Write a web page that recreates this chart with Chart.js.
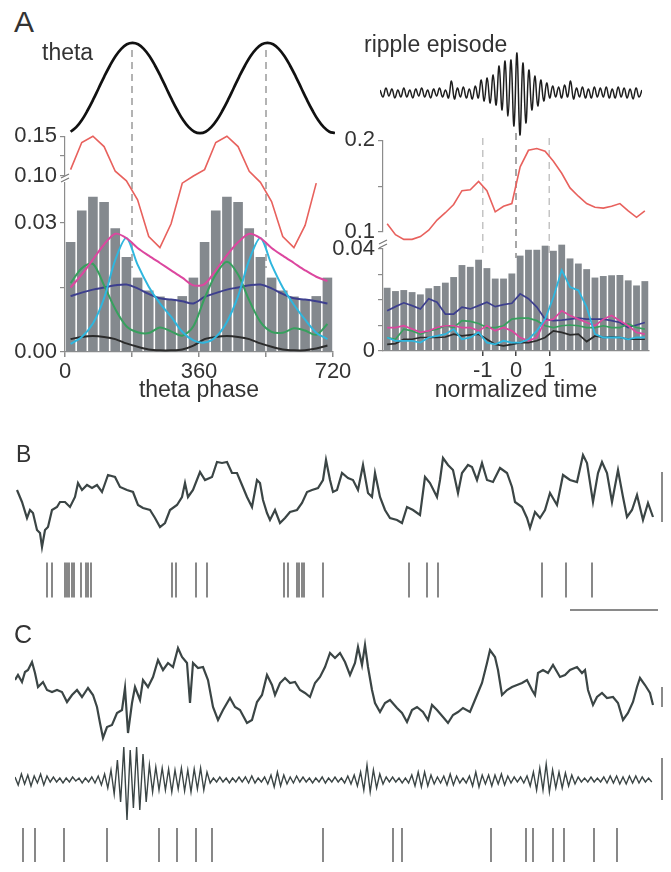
<!DOCTYPE html>
<html lang="en">
<head>
<meta charset="UTF-8">
<title>theta phase and ripple locking</title>
<style>
  body { margin: 0; background: #fff; }
  #fig { position: relative; width: 671px; height: 872px; overflow: hidden;
         font-family: "Liberation Sans", Arial, sans-serif; color: #333; }
  #fig canvas { position: absolute; }
  .lbl { position: absolute; line-height: 1.2; white-space: nowrap; }
</style>
</head>
<body>
<div id="fig">
  <canvas id="cLL" width="365" height="370" style="left:0;top:40px"></canvas>
  <canvas id="cLU" width="340" height="150" style="left:0;top:120px"></canvas>
  <canvas id="cTheta" width="270" height="100" style="left:65px;top:38px"></canvas>
  <canvas id="cRL" width="340" height="286" style="left:330px;top:124px"></canvas>
  <canvas id="cRU" width="330" height="126" style="left:330px;top:124px"></canvas>
  <canvas id="cRipple" width="262" height="96" style="left:380px;top:48px"></canvas>
  <canvas id="cB" width="655" height="180" style="left:15px;top:440px"></canvas>
  <canvas id="cC" width="655" height="245" style="left:15px;top:625px"></canvas>

  <div class="lbl" style="left:14px;top:4px;font-size:30px">A</div>
  <div class="lbl" style="left:42px;top:39px;font-size:23px">theta</div>
  <div class="lbl" style="left:364px;top:31px;font-size:23px">ripple episode</div>
  <div class="lbl" style="left:16px;top:441px;font-size:23px">B</div>
  <div class="lbl" style="left:14px;top:619px;font-size:25px">C</div>
</div>

<script src="https://cdn.jsdelivr.net/npm/chart.js"></script>
<script>
// ---- panel A, left: theta phase (deg), two cycles ----
const thetaPhase = [15,30,45,60,75,90,105,120,135,150,165,180,195,210,225,240,255,270,285,300,315,330,345,360,
                    375,390,405,420,435,450,465,480,495,510,525,540,555,570,585,600,615,630,645,660,675,690,705,720];
const thetaWave = [-0.97,-0.87,-0.71,-0.5,-0.26,0,0.26,0.5,0.71,0.87,0.97,1,0.97,0.87,0.71,0.5,0.26,0,-0.26,-0.5,-0.71,-0.87,-0.97,-1,
                   -0.97,-0.87,-0.71,-0.5,-0.26,0,0.26,0.5,0.71,0.87,0.97,1,0.97,0.87,0.71,0.5,0.26,0,-0.26,-0.5,-0.71,-0.87,-0.97,-1];
const thetaPeaks = [180, 540];

const phaseBins = [15,45,75,105,135,165,195,225,255,285,315,345,375,405,435,465,495,525,555,585,615,645,675,705];
const phaseBars = [0.0256,0.0329,0.0361,0.0349,0.0288,0.0221,0.0173,0.0143,0.0129,0.0123,0.0130,0.0173,
                   0.0256,0.0329,0.0361,0.0349,0.0288,0.0221,0.0173,0.0143,0.0129,0.0123,0.0130,0.0173];
const phaseRed = [0.108,0.142,0.150,0.137,0.106,0.094,0.070,0.024,0.010,0.040,0.091,0.100,
                  0.108,0.142,0.150,0.137,0.106,0.092,0.068,0.024,0.010,0.038,0.091,null];
const phaseMagenta = [0.0150,0.0180,0.0215,0.0250,0.0275,0.0265,0.0242,0.0224,0.0207,0.0190,0.0173,0.0155,
                      0.0158,0.0190,0.0225,0.0255,0.0275,0.0265,0.0242,0.0224,0.0207,0.0190,0.0175,0.0165];
const phaseCyan = [0.0019,0.0035,0.0066,0.0125,0.0214,0.0265,0.0203,0.0152,0.0113,0.0082,0.0047,0.0027,
                   0.0022,0.0035,0.0070,0.0130,0.0214,0.0265,0.0203,0.0150,0.0110,0.0075,0.0045,0.0030];
const phaseGreen = [0.0160,0.0195,0.0205,0.0155,0.0100,0.0060,0.0046,0.0044,0.0057,0.0048,0.0038,0.0060,
                    0.0125,0.0180,0.0210,0.0180,0.0120,0.0070,0.0047,0.0045,0.0055,0.0050,0.0040,0.0065];
const phaseNavy = [0.0130,0.0138,0.0145,0.0150,0.0155,0.0157,0.0148,0.0135,0.0125,0.0122,0.0118,0.0113,
                   0.0128,0.0137,0.0145,0.0150,0.0155,0.0157,0.0148,0.0135,0.0125,0.0122,0.0118,0.0113];
const phaseBlack = [0.0030,0.0035,0.0037,0.0035,0.0030,0.0020,0.0012,0.0006,0.0004,0.0004,0.0006,0.0015,
                    0.0030,0.0035,0.0037,0.0035,0.0030,0.0020,0.0012,0.0006,0.0004,0.0004,0.0008,0.0015];

// ---- panel A, right: normalized time around ripple episode ----
const timeBins = [-3.875,-3.625,-3.375,-3.125,-2.875,-2.625,-2.375,-2.125,-1.875,-1.625,-1.375,-1.125,-0.875,-0.625,-0.375,-0.125,
                  0.125,0.375,0.625,0.875,1.125,1.375,1.625,1.875,2.125,2.375,2.625,2.875,3.125,3.375,3.625,3.875];
const timeMarks = [-1, 0, 1];
const timeBars = [0.0248,0.0235,0.0239,0.0231,0.0222,0.0246,0.0255,0.0268,0.0290,0.0337,0.0330,0.0358,0.0325,0.0284,0.0284,0.0304,
                  0.0374,0.0397,0.0397,0.0413,0.0393,0.0417,0.0363,0.0343,0.0321,0.0288,0.0294,0.0297,0.0298,0.0277,0.0257,0.0274];
const timeRed = [0.109,0.097,0.092,0.092,0.095,0.102,0.113,0.121,0.130,0.145,0.146,0.155,0.145,0.122,0.128,0.131,
                 0.171,0.189,0.191,0.188,0.177,0.164,0.148,0.139,0.131,0.127,0.126,0.128,0.131,0.123,0.116,0.123];
const timeNavy = [0.0158,0.0174,0.0189,0.0178,0.0165,0.0205,0.0191,0.0145,0.0145,0.0172,0.0165,0.0178,0.0191,0.0174,0.0182,0.0187,
                  0.0224,0.0205,0.0172,0.0125,0.0119,0.0121,0.0125,0.0129,0.0125,0.0125,0.0125,0.0119,0.0112,0.0092,0.0102,0.0112];
const timeCyan = [0.0053,0.0040,0.0040,0.0040,0.0033,0.0053,0.0059,0.0066,0.0086,0.0046,0.0053,0.0073,0.0033,0.0026,0.0040,0.0033,
                  0.0033,0.0046,0.0079,0.0125,0.0211,0.0317,0.0251,0.0238,0.0172,0.0066,0.0053,0.0053,0.0053,0.0046,0.0053,0.0053];
const timeMagenta = [0.0092,0.0092,0.0099,0.0086,0.0073,0.0079,0.0092,0.0099,0.0099,0.0092,0.0092,0.0079,0.0099,0.0079,0.0092,0.0079,
                     0.0053,0.0040,0.0053,0.0119,0.0125,0.0158,0.0139,0.0125,0.0112,0.0099,0.0125,0.0139,0.0119,0.0099,0.0073,0.0066];
const timeGreen = [0.0053,0.0046,0.0086,0.0079,0.0066,0.0079,0.0086,0.0099,0.0092,0.0119,0.0116,0.0108,0.0092,0.0092,0.0099,0.0125,
                   0.0129,0.0129,0.0119,0.0099,0.0092,0.0099,0.0102,0.0099,0.0092,0.0092,0.0099,0.0092,0.0092,0.0106,0.0092,0.0086];
const timeBlack = [0.0026,0.0029,0.0046,0.0046,0.0053,0.0053,0.0053,0.0055,0.0066,0.0059,0.0063,0.0066,0.0046,0.0026,0.0020,0.0026,
                   0.0033,0.0033,0.0040,0.0053,0.0079,0.0073,0.0063,0.0066,0.0037,0.0059,0.0053,0.0055,0.0053,0.0046,0.0046,0.0046];

// ripple-band trace of the example episode (one value per half cycle)
const rippleTrace = [3,-4,5,-3,4,-5,3,-4,5,-4,3,-5,4,-3,5,-4,3,-5,4,-3,5,-4,3,-5,
                     12,-6,5,-4,6,-5,4,-6,7,-5,
                     13,-8,15,-10,18,-12,27,-17,32,-23,33,-33,40,-42,30,-30,23,-17,17,-13,
                     13,-8,10,-5,7,-4,6,
                     -5,8,-4,12,-6,5,-4,6,-5,4,-5,6,-4,5,-4,6,-5,4,-5,6,-4,5,-5,4,-6,5,-4,3];

// ---- panel B: wide-band LFP [ms, a.u.] and unit spikes [ms] ----
const bLfp = [[2,10],[7,-2],[12,-18],[15,-10],[18,-13],[22,-30],[25,-33],[27,-47],[30,-30],[33,-27],[37,-10],[42,-7],[45,-2],[50,-2],
  [55,-7],[60,3],[63,17],[67,10],[72,15],[77,12],[82,15],[87,8],[93,25],[100,23],[105,13],[112,10],[118,8],[123,-5],[128,-8],[135,-10],
  [140,-18],[145,-27],[150,-23],[155,-10],[162,-5],[167,3],[170,17],[173,3],[178,10],[185,28],[190,20],[197,23],[202,38],[207,37],
  [212,38],[217,27],[222,27],[227,15],[232,3],[237,-7],[242,20],[245,17],[248,0],[252,-13],[255,-20],[260,-10],[265,-23],[270,-18],
  [275,-12],[282,-10],[287,-3],[292,8],[297,10],[303,12],[308,20],[311,40],[315,20],[318,8],[322,10],[327,27],[333,22],[338,20],
  [343,10],[348,35],[353,7],[357,3],[360,27],[365,3],[370,-10],[375,-18],[382,-20],[387,-23],[392,-7],[398,-10],[405,-15],[410,23],
  [415,17],[422,3],[425,20],[428,42],[433,35],[438,30],[443,7],[447,27],[453,35],[457,33],[462,20],[467,37],[472,20],[478,18],
  [485,32],[492,27],[497,13],[500,-2],[507,-7],[512,-18],[515,-28],[520,-12],[525,-18],[530,-10],[535,7],[542,-5],[548,25],[555,20],
  [562,18],[568,45],[572,37],[578,-2],[583,27],[587,38],[592,27],[597,-2],[603,30],[608,3],[612,-17],[617,-10],[622,5],[628,-20],
  [633,-3],[638,-17]];
const bSpikes = [32,37,50,52,54,57,59,66,71,73,76,157,161,181,192,269,273,282,284,287,289,308,394,412,423,527,551,577];

// ---- panel C: wide-band LFP, ripple-band LFP and spikes ----
const cLfp = [[0,20],[3,25],[7,18],[10,28],[13,30],[17,38],[20,27],[23,13],[28,18],[32,10],[37,8],[42,10],[47,8],[52,-2],[57,5],
  [62,10],[67,3],[73,12],[78,5],[82,-7],[85,-23],[88,-38],[92,-27],[97,-25],[102,-13],[107,-10],[110,12],[113,-33],[117,-3],[120,13],
  [125,0],[128,20],[133,13],[138,23],[143,40],[148,30],[153,37],[158,33],[163,52],[167,43],[172,37],[175,-3],[178,37],[183,32],
  [188,33],[193,20],[198,-7],[203,-20],[208,-10],[215,2],[220,-7],[225,-10],[232,-23],[237,-20],[242,-2],[247,5],[252,25],[257,15],
  [260,5],[265,17],[270,22],[275,17],[280,18],[285,10],[290,7],[295,3],[300,17],[305,23],[310,33],[315,47],[320,42],[325,47],
  [330,38],[335,25],[340,37],[343,53],[347,35],[350,55],[353,33],[357,10],[360,-3],[365,-12],[370,-3],[375,0],[382,-8],[387,-13],
  [392,-22],[397,-10],[402,-7],[408,-12],[413,-20],[417,-5],[422,-10],[428,-17],[433,-23],[438,-15],[443,-12],[448,-8],[455,-12],
  [462,5],[467,17],[472,37],[475,50],[480,43],[483,30],[487,5],[492,10],[497,13],[502,15],[507,17],[512,20],[517,10],[520,5],
  [523,27],[528,30],[533,27],[538,35],[545,23],[550,25],[555,30],[562,33],[567,27],[570,30],[573,10],[578,-5],[582,3],[587,7],
  [592,2],[598,3],[603,-3],[608,-20],[613,-13],[618,-2],[622,13],[625,22],[630,15],[635,7],[638,-5]];
const cFiltStep = 3.2; // ms between listed samples
const cFilt = [3,-5,6,-4,5,-6,4,-3,6,-5,4,
  -2,3,-2,2,-3,2,-2,3,-1,2,-3,2,-2,3,-3,4,-5,
  6,-8,10, -14,20,-22, 33,-40,30,-28,33,-30,26, -22,15,-12,13,-10,
  12,-10,11,-12,10,-9,12,-11,10,-12,11,-9,12,-10,8,
  -3,2,-2,3,-2,2,-3,2,-2,3,-2,3,-3,4,-3,2,-2,3,-4,5,
  -7,8,-6,5,-4,3,-3,4,
  -2,3,-2,2,-3,2,-2,3,-3,2,-2,3,-2,2,-3,4,-4,5,-6,8,
  -10,15,-12,10,-8,6,-4,
  3,-2,3,-2,2,-3,2,-3,5,-6,
  8,-7,8,-6,5,-4,
  3,-3,4,-5,6,-5,4,-3,2,
  -3,4,-6,8,-7,5,
  -4,5,-6,5,-4,6,-5,4,-3,
  3,-2,3,-3,4,-6,8,-10,
  12,-10,16,-12,10,-8,8,
  -8,7,-6,5,-4,3,
  -2,2,-2,3,-2,2,-2,3,-3,4,-3,4,-4,3,-4,4,-3,4,-3,3,-2,2,-2];
const cSpikes = [8,20,49,92,144,162,181,197,308,378,387,476,511,518,538,549,579,602];

// ---- shared look ----
Chart.defaults.font.family = '"Liberation Sans", Arial, sans-serif';
Chart.defaults.color = '#333';
Chart.defaults.animation = false;
Chart.defaults.responsive = false;
Chart.defaults.devicePixelRatio = 1;
Chart.defaults.events = [];
Chart.defaults.layout.autoPadding = false;
Chart.defaults.plugins.legend.display = false;
Chart.defaults.plugins.tooltip.enabled = false;

const AXIS = '#8c8c8c';
const TRACE = '#3b4545';
const pts = (xs, ys) => xs.map((x, i) => ({ x, y: ys[i] }));
const pairs = arr => arr.map(([x, y]) => ({ x, y }));
const hidden = (min, max) => ({ type: 'linear', display: false, min, max });

function curve(data, color, extra) {
  return Object.assign({ type: 'line', data, borderColor: color, borderWidth: 1.7, pointRadius: 0,
                         tension: 0, clip: false, order: 0 }, extra || {});
}

function yAxis(min, max, ticks, fmt, width) {
  return {
    type: 'linear', position: 'left', min, max,
    afterBuildTicks: s => { s.ticks = ticks.map(v => ({ value: v })); },
    afterFit: s => { s.width = width; },
    ticks: { callback: v => fmt(v), font: { size: 22 }, color: '#333', padding: 3, autoSkip: false },
    grid: { drawOnChartArea: false, tickLength: 5, color: AXIS, lineWidth: 1.2 },
    border: { color: AXIS, width: 1.2 }
  };
}

function xAxis(min, max, ticks, fmt, title, height, tickColor) {
  return {
    type: 'linear', min, max, offset: false,
    afterBuildTicks: s => { s.ticks = ticks.map(v => ({ value: v })); },
    afterFit: s => { s.height = height; },
    ticks: { callback: v => fmt(v), font: { size: 22 }, color: '#333', padding: 2, autoSkip: false, maxRotation: 0 },
    grid: { drawOnChartArea: false, offset: false, tickLength: 5, color: tickColor, lineWidth: 1.5 },
    border: { color: AXIS, width: 1.2 },
    title: { display: true, text: title, font: { size: 23 }, color: '#333', padding: { top: 0, bottom: 6 } }
  };
}

// dashed guides at theta peaks / ripple marks
const refLines = {
  id: 'refLines',
  beforeDatasetsDraw(chart, args, o) {
    const ctx = chart.ctx, xs = chart.scales.x;
    ctx.save();
    ctx.lineWidth = 1.5;
    ctx.setLineDash([7, 5]);
    o.lines.forEach(l => {
      const px = xs.getPixelForValue(l.at);
      ctx.strokeStyle = l.color;
      ctx.beginPath(); ctx.moveTo(px, l.from); ctx.lineTo(px, l.to); ctx.stroke();
    });
    ctx.restore();
  }
};

// small break mark at the top of a lower y axis
const axisBreak = {
  id: 'axisBreak',
  afterDraw(chart) {
    const ctx = chart.ctx, x = chart.chartArea.left, y = chart.chartArea.top;
    ctx.save();
    ctx.strokeStyle = '#777';
    ctx.lineWidth = 1.2;
    ctx.beginPath();
    ctx.moveTo(x - 4, y - 1); ctx.lineTo(x + 4, y - 5);
    ctx.moveTo(x - 4, y - 5); ctx.lineTo(x + 4, y - 9);
    ctx.stroke();
    ctx.restore();
  }
};

// ---- A left, lower part: bars + cell-type curves ----
new Chart(document.getElementById('cLL'), {
  type: 'bar',
  data: {
    datasets: [
      curve(pts(phaseBins, phaseMagenta), '#dc479f', { tension: 0.3, borderWidth: 2 }),
      curve(pts(phaseBins, phaseCyan), '#2fb6de', { tension: 0.3, borderWidth: 2 }),
      curve(pts(phaseBins, phaseGreen), '#37a05e', { tension: 0.3, borderWidth: 2 }),
      curve(pts(phaseBins, phaseNavy), '#3d3f8e', { tension: 0.3, borderWidth: 2 }),
      curve(pts(phaseBins, phaseBlack), '#2b2b2b', { tension: 0.3, borderWidth: 2 }),
      { type: 'bar', data: pts(phaseBins, phaseBars), backgroundColor: '#84898e',
        barPercentage: 0.86, categoryPercentage: 1, order: 10 }
    ]
  },
  options: {
    layout: { padding: { top: 143, right: 32, left: 0, bottom: 0 } },
    scales: {
      x: xAxis(0, 720, [0, 180, 360, 540, 720], v => (v % 360 === 0 ? String(v) : ''), 'theta phase', 58, AXIS),
      y: yAxis(0, 0.0393, [0, 0.015, 0.03], v => (v === 0.015 ? '' : v.toFixed(2)), 65)
    },
    plugins: {
      refLines: { lines: thetaPeaks.map(p => ({ at: p, from: 10, to: 228, color: '#9a9a9a' })) }
    }
  },
  plugins: [refLines, axisBreak]
});

// ---- A left, upper part: red curve on 0.10-0.15 axis ----
new Chart(document.getElementById('cLU'), {
  type: 'line',
  data: { datasets: [curve(pts(phaseBins, phaseRed), '#e8615d', { borderWidth: 1.6 })] },
  options: {
    layout: { padding: { top: 15, right: 7, bottom: 94, left: 0 } },
    scales: {
      x: hidden(0, 720),
      y: yAxis(0.10, 0.15, [0.10, 0.125, 0.15], v => (v === 0.125 ? '' : v.toFixed(2)), 65)
    }
  }
});

// ---- theta reference wave ----
new Chart(document.getElementById('cTheta'), {
  type: 'line',
  data: { datasets: [curve(pts(thetaPhase, thetaWave), '#111', { borderWidth: 2.7, tension: 0.4 })] },
  options: { scales: { x: hidden(0, 720), y: hidden(-1.11, 1.11) } }
});

// ---- A right, lower part ----
new Chart(document.getElementById('cRL'), {
  type: 'bar',
  data: {
    datasets: [
      curve(pts(timeBins, timeCyan), '#2fb6de', { borderWidth: 1.8 }),
      curve(pts(timeBins, timeMagenta), '#dc479f'),
      curve(pts(timeBins, timeGreen), '#37a05e'),
      curve(pts(timeBins, timeNavy), '#3d3f8e'),
      curve(pts(timeBins, timeBlack), '#2b2b2b'),
      { type: 'bar', data: pts(timeBins, timeBars), backgroundColor: '#84898e',
        barPercentage: 0.82, categoryPercentage: 1, order: 10, clip: false }
    ]
  },
  options: {
    layout: { padding: { top: 125, right: 21, left: 0, bottom: 0 } },
    scales: {
      x: xAxis(-4, 4, timeMarks, v => String(v), 'normalized time', 59, '#444'),
      y: yAxis(0, 0.04, [0, 0.01, 0.02, 0.03, 0.04], v => (v === 0 ? '0' : v === 0.04 ? '0.04' : ''), 53)
    },
    plugins: {
      refLines: { lines: timeMarks.map(t => ({ at: t, from: t === 0 ? 9 : 14, to: 134, color: t === 0 ? '#8a8a8a' : '#c4c4c4' })) }
    }
  },
  plugins: [refLines, axisBreak]
});

// ---- A right, upper part: red curve on 0.1-0.2 axis ----
new Chart(document.getElementById('cRU'), {
  type: 'line',
  data: { datasets: [curve(pts(timeBins, timeRed), '#e8615d', { borderWidth: 1.6 })] },
  options: {
    layout: { padding: { top: 14, right: 11, bottom: 18, left: 0 } },
    scales: {
      x: hidden(-4, 4),
      y: yAxis(0.1, 0.2, [0.1, 0.15, 0.2], v => (v === 0.15 ? '' : v.toFixed(1)), 53)
    }
  }
});

// ---- ripple episode trace ----
new Chart(document.getElementById('cRipple'), {
  type: 'line',
  data: { datasets: [curve(rippleTrace.map((v, i) => ({ x: i, y: v })), '#1e1e1e', { borderWidth: 1.5, tension: 0.4 })] },
  options: { scales: { x: hidden(0, rippleTrace.length - 1), y: hidden(-51, 45) } }
});

// ---- B ----
const spikeSet = (times, row, half) => ({
  type: 'line', data: times.map(t => ({ x: t, y: row })), showLine: false,
  pointStyle: 'line', pointRadius: half, pointRotation: 90,
  pointBorderColor: '#6a6a6a', pointBorderWidth: 1.6, clip: false
});
const bar = (data, axis) => curve(data, '#8a8a8a', { borderWidth: 2, yAxisID: axis || 'y' });

new Chart(document.getElementById('cB'), {
  type: 'line',
  data: {
    datasets: [
      curve(pairs(bLfp), TRACE, { borderWidth: 2.2 }),
      spikeSet(bSpikes, -80, 17.5),
      bar([{ x: 555, y: -110 }, { x: 643, y: -110 }]),
      bar([{ x: 647, y: 28 }, { x: 647, y: -22 }])
    ]
  },
  options: { scales: { x: hidden(0, 655), y: hidden(-120, 60) } }
});

// ---- C ----
new Chart(document.getElementById('cC'), {
  type: 'line',
  data: {
    datasets: [
      curve(pairs(cLfp), TRACE, { borderWidth: 2.2 }),
      curve(cFilt.map((v, i) => ({ x: i * cFiltStep, y: v })), TRACE, { borderWidth: 1.4, yAxisID: 'yf' }),
      spikeSet(cSpikes, -145, 17),
      bar([{ x: 647, y: 13 }, { x: 647, y: -7 }]),
      bar([{ x: 647, y: 22 }, { x: 647, y: -20 }], 'yf')
    ]
  },
  options: { scales: { x: hidden(0, 655), y: hidden(-170, 75), yf: hidden(-90, 155) } }
});
</script>
</body>
</html>
